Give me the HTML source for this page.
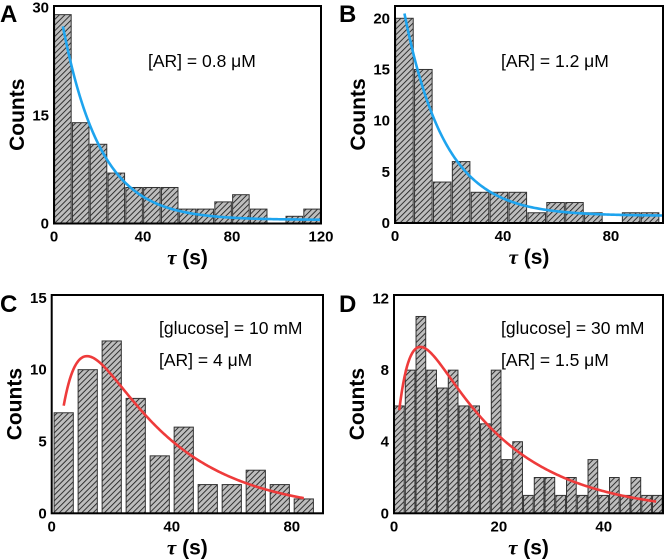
<!DOCTYPE html>
<html><head><meta charset="utf-8"><style>
body{margin:0;background:#fff}
svg{display:block;font-family:"Liberation Sans",Arial,sans-serif}
</style></head><body>
<svg id="fig" width="666" height="559" viewBox="0 0 666 559" xmlns="http://www.w3.org/2000/svg">
<defs>
<pattern id="hatch" patternUnits="userSpaceOnUse" width="4" height="4" patternTransform="rotate(45)">
<rect width="4" height="4" fill="#bdbdbd"/>
<line x1="0" y1="0" x2="0" y2="4" stroke="#1a1a1a" stroke-width="1.7"/>
</pattern>
</defs>
</svg>
<script>
// Panel A
const aBins = [0,8,16,24,32,40,48,56,64,72,80,88,96,104,112];
const aCounts = [29,14,11,7,5,5,5,2,2,3,4,2,0,1,2];
const aXTicks = [0,40,80,120];
const aYTicks = [0,15,30];
// Panel B
const bBins = [0,7,14,21,28,35,42,49,56,63,70,77,84,91];
const bCounts = [20,15,4,6,3,3,3,1,2,2,1,0,1,1];
const bXTicks = [0,40,80];
const bYTicks = [0,5,10,15,20];
// Panel C
const cBins = [0,8,16,24,32,40,48,56,64,72,80];
const cCounts = [7,10,12,8,4,6,2,2,3,2,1];
const cXTicks = [0,40,80];
const cYTicks = [0,5,10,15];
// Panel D
const dBins = [0,2.05,4.1,6.15,8.2,10.25,12.3,14.35,16.4,18.45,20.5,22.55,24.6,26.65,28.7,30.75,32.8,34.85,36.9,38.95,41,43.05,45.1,47.15,49.2];
const dCounts = [6,8,11,8,7,8,6,6,5,8,3,4,1,2,2,1,2,1,3,1,2,1,2,1,1];
const dXTicks = [0,20,40];
const dYTicks = [0,4,8,12];

const NS='http://www.w3.org/2000/svg';
const svg=document.getElementById('fig');
function mk(tag,attrs,parent){const e=document.createElementNS(NS,tag);for(const k in attrs)e.setAttribute(k,attrs[k]);(parent||svg).appendChild(e);return e;}

function panel(p){
  const g=mk('g',{});
  
  
  const sx=v=>p.x0+(v-p.xmin)/(p.xmax-p.xmin)*(p.x1-p.x0);
  const sy=v=>p.y0-(v/p.ymax)*(p.y0-p.y1);
  p.bins.forEach((b,i)=>{
    const c=p.counts[i]; if(c<=0) return;
    const xa=sx(b+p.bw*(1-p.fill)/2), xb=sx(b+p.bw*(1+p.fill)/2);
    const r=mk('rect',{x:xa,y:sy(c),width:xb-xa,height:sy(0)-sy(c),fill:'url(#hatch)',stroke:'#333','stroke-width':1},g);
    
    
  });
  let d='';
  for(let k=0;k<=200;k++){const x=p.cx0+(p.cx1-p.cx0)*k/200;d+=(k?'L':'M')+sx(x).toFixed(2)+','+sy(p.fit(x)).toFixed(2);}
  const path=mk('path',{d:d,fill:'none',stroke:p.color,'stroke-width':2.6},g);
  
  
  const fr=mk('rect',{x:p.x0,y:p.y1,width:p.x1-p.x0,height:p.y0-p.y1,fill:'none',stroke:'#000','stroke-width':2},g);
  
  
  p.xt.forEach(t=>{
    const tx=mk('text',{x:sx(t),y:p.y0+18,'text-anchor':'middle','font-size':15,'font-weight':'bold'},g);
    tx.textContent=t;
    
    
  });
  p.yt.forEach(t=>{
    const ty=mk('text',{x:p.x0-5,y:sy(t)+5,'text-anchor':'end','font-size':15,'font-weight':'bold'},g);
    ty.textContent=t;
    
    
  });
  const yl=mk('text',{x:0,y:0,'text-anchor':'middle','font-size':21,'font-weight':'bold',transform:'translate('+(p.x0-30)+','+((p.y0+p.y1)/2)+') rotate(-90)'},g);
  yl.textContent='Counts';
  
  
  const xl=mk('text',{x:(p.x0+p.x1)/2,y:p.y0+41,'text-anchor':'middle','font-size':21,'font-weight':'bold'},g);
  xl.innerHTML='<tspan font-family="Liberation Serif, serif" font-style="italic">τ</tspan> (s)';
  
  
  const lt=mk('text',{x:p.lx,y:p.ly,'font-size':24,'font-weight':'bold'},g);
  lt.textContent=p.id;
  
  
  p.notes.forEach((n,i)=>{
    const t=mk('text',{x:p.nx,y:p.ny+i*32,'font-size':17.5},g);
    t.textContent=n;
    
    
  });
}

panel({id:'A',x0:54,x1:321,y0:223.5,y1:6,xmin:0,xmax:120,ymax:30.2,bins:aBins,counts:aCounts,bw:8,fill:0.93,
  fit:x=>34*Math.exp(-x/17)+0.5,cx0:4,cx1:120,color:'#1ea4ee',xt:aXTicks,yt:aYTicks,lx:0,ly:22,
  notes:['[AR] = 0.8 μM'],nx:148,ny:67});
panel({id:'B',x0:395,x1:663,y0:223,y1:6,xmin:0,xmax:99.3,ymax:21.2,bins:bBins,counts:bCounts,bw:7,fill:0.93,
  fit:x=>25*Math.exp(-x/14.9)+0.7,cx0:3.5,cx1:99.3,color:'#1ea4ee',xt:bXTicks,yt:bYTicks,lx:339,ly:22,
  notes:['[AR] = 1.2 μM'],nx:501,ny:67});
panel({id:'C',x0:51.7,x1:323,y0:513.3,y1:295,xmin:0,xmax:90.4,ymax:15.2,bins:cBins,counts:cCounts,bw:8,fill:0.8,
  fit:x=>21.2*(Math.exp(-x/28)-Math.exp(-x/6)),cx0:4,cx1:84,color:'#ee3b3b',xt:cXTicks,yt:cYTicks,lx:0,ly:312,
  notes:['[glucose] = 10 mM','[AR] = 4 μM'],nx:159,ny:334});
panel({id:'D',x0:394,x1:663,y0:513.3,y1:295,xmin:0,xmax:51.3,ymax:12.2,bins:dBins,counts:dCounts,bw:2.05,fill:0.9,
  fit:x=>15.84*(Math.exp(-(x+0.6)/15.9)-Math.exp(-(x+0.6)/2.6)),cx0:1,cx1:50,color:'#ee3b3b',xt:dXTicks,yt:dYTicks,lx:339,ly:312,
  notes:['[glucose] = 30 mM','[AR] = 1.5 μM'],nx:501,ny:334});
</script>
</body></html>
